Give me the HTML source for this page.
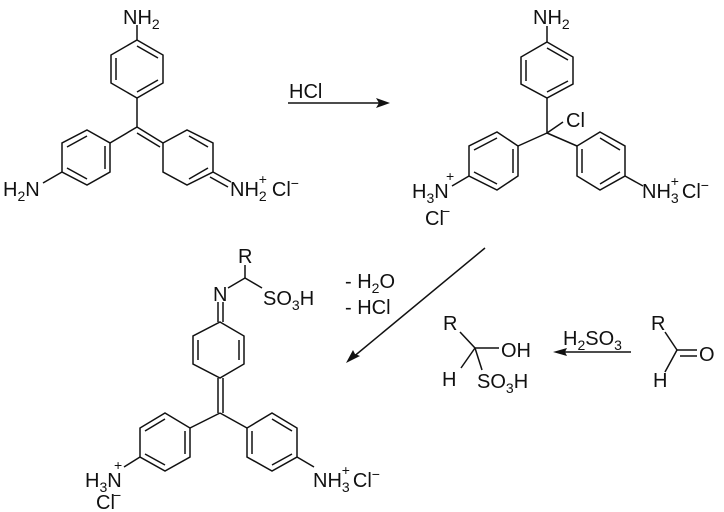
<!DOCTYPE html>
<html><head><meta charset="utf-8"><style>body{margin:0;background:#fff}svg{display:block}text{font-family:"Liberation Sans",sans-serif;font-size:20px;fill:#111}.s{font-size:14px}</style></head><body>
<svg width="724" height="512" viewBox="0 0 724 512" xmlns="http://www.w3.org/2000/svg">
<g stroke="#111" stroke-width="1.5" fill="none">
<polygon points="137,40 163,55 163,83 137,98 111,83 111,55"/>
<line x1="137" y1="46" x2="158" y2="58"/><line x1="158" y1="80" x2="137" y2="92"/><line x1="116" y1="58" x2="116" y2="80"/>
<line x1="137" y1="25" x2="137" y2="40"/>
<line x1="137" y1="98" x2="137" y2="127"/>
<polygon points="87,130 110,143 110,172 87,185 62,172 62,143"/>
<line x1="105" y1="146" x2="105" y2="169"/><line x1="87" y1="136" x2="67" y2="147"/><line x1="67" y1="168" x2="87" y2="179"/>
<line x1="137" y1="127" x2="110" y2="143"/>
<line x1="62" y1="172" x2="43" y2="183"/>
<polygon points="163,143 187,130 213,143 213,172 187,185 163,172"/>
<line x1="137" y1="127" x2="163" y2="143"/><line x1="137" y1="133" x2="160" y2="147"/>
<line x1="189" y1="136" x2="208" y2="147"/><line x1="189" y1="179" x2="208" y2="168"/>
<line x1="213" y1="172" x2="231" y2="182"/><line x1="210" y1="177" x2="228" y2="187"/>
<line x1="288" y1="103" x2="385" y2="103"/>
<polygon points="547,42 573,57 573,84 547,98 521,84 521,57"/>
<line x1="547" y1="48" x2="568" y2="60"/><line x1="568" y1="81" x2="547" y2="92"/><line x1="526" y1="60" x2="526" y2="81"/>
<line x1="547" y1="26" x2="547" y2="42"/>
<line x1="547" y1="98" x2="547" y2="133"/>
<line x1="547" y1="133" x2="563" y2="122"/>
<polygon points="497,132 518,146 518,176 497,190 469,176 469,146"/>
<line x1="513" y1="149" x2="513" y2="173"/><line x1="497" y1="138" x2="474" y2="150"/><line x1="474" y1="172" x2="497" y2="184"/>
<line x1="547" y1="133" x2="518" y2="146"/>
<line x1="469" y1="176" x2="452" y2="186"/>
<polygon points="600,132 625,146 625,176 600,190 577,176 577,146"/>
<line x1="582" y1="149" x2="582" y2="173"/><line x1="600" y1="138" x2="620" y2="150"/><line x1="620" y1="172" x2="600" y2="184"/>
<line x1="547" y1="133" x2="577" y2="146"/>
<line x1="625" y1="176" x2="643" y2="186"/>
<line x1="485" y1="248" x2="352" y2="358"/>
<line x1="228" y1="288" x2="245" y2="278"/><line x1="245" y1="278" x2="262" y2="288"/><line x1="245" y1="278" x2="245" y2="265"/>
<line x1="218" y1="302" x2="218" y2="322"/><line x1="223" y1="302" x2="223" y2="322"/>
<polygon points="220,322 244,336 244,364 220,378 193,364 193,336"/>
<line x1="198" y1="340" x2="198" y2="360"/><line x1="239" y1="340" x2="239" y2="360"/>
<line x1="218" y1="378" x2="218" y2="413"/><line x1="223" y1="378" x2="223" y2="413"/>
<polygon points="165,413 190,428 190,457 165,471 140,457 140,428"/>
<line x1="185" y1="431" x2="185" y2="454"/><line x1="165" y1="419" x2="145" y2="431"/><line x1="145" y1="454" x2="165" y2="465"/>
<line x1="220" y1="413" x2="190" y2="428"/>
<line x1="140" y1="457" x2="124" y2="467"/>
<polygon points="272,413 297,428 297,457 272,471 247,457 247,428"/>
<line x1="252" y1="431" x2="252" y2="454"/><line x1="272" y1="419" x2="292" y2="431"/><line x1="292" y1="454" x2="272" y2="465"/>
<line x1="220" y1="413" x2="247" y2="428"/>
<line x1="297" y1="457" x2="314" y2="467"/>
<line x1="460" y1="332" x2="475" y2="348"/><line x1="475" y1="348" x2="499" y2="348"/><line x1="475" y1="348" x2="461" y2="368"/><line x1="475" y1="348" x2="482" y2="370"/>
<line x1="631" y1="352" x2="560" y2="352"/>
<line x1="665" y1="332" x2="677" y2="350"/><line x1="677" y1="350" x2="697" y2="350"/><line x1="680" y1="356" x2="697" y2="356"/><line x1="677" y1="350" x2="665" y2="372"/>
</g>
<g fill="#111">
<polygon points="390,103 376,98 379,103 376,108"/>
<polygon points="346,363 353,350 355,354 360,356"/>
<polygon points="553,352 567,348 565,352 567,356"/>
</g>
<text x="123" y="24">NH<tspan class="s" dy="5">2</tspan></text>
<text x="3" y="196">H<tspan class="s" dy="5">2</tspan><tspan dy="-5">N</tspan></text>
<text x="230" y="196">NH<tspan class="s" dy="5">2</tspan><tspan class="s" dx="-8" dy="-17">+</tspan><tspan dx="5" dy="12">Cl</tspan><tspan class="s" dy="-8">−</tspan></text>
<text x="289" y="98">HCl</text>
<text x="533" y="24">NH<tspan class="s" dy="5">2</tspan></text>
<text x="566" y="127">Cl</text>
<text x="412" y="198">H<tspan class="s" dy="5">3</tspan><tspan dy="-5">N</tspan></text><text class="s" x="446" y="181">+</text>
<text x="425" y="225">Cl</text><text class="s" x="442" y="216">−</text>
<text x="642" y="198">NH<tspan class="s" dy="5">3</tspan><tspan class="s" dx="-8" dy="-17">+</tspan><tspan dx="3" dy="12">Cl</tspan><tspan class="s" dy="-8">−</tspan></text>
<text x="238" y="263">R</text>
<text x="213" y="301">N</text>
<text x="263" y="305">SO<tspan class="s" dy="5">3</tspan><tspan dy="-5">H</tspan></text>
<text x="85" y="487">H<tspan class="s" dy="5">3</tspan><tspan dy="-5">N</tspan></text><text class="s" x="114" y="470">+</text>
<text x="96" y="509">Cl</text><text class="s" x="113" y="500">−</text>
<text x="313" y="487">NH<tspan class="s" dy="5">3</tspan><tspan class="s" dx="-8" dy="-17">+</tspan><tspan dx="3" dy="12">Cl</tspan><tspan class="s" dy="-8">−</tspan></text>
<text x="345" y="288">- H<tspan class="s" dy="5">2</tspan><tspan dy="-5">O</tspan></text>
<text x="345" y="314">- HCl</text>
<text x="443" y="330">R</text>
<text x="501" y="357">OH</text>
<text x="442" y="386">H</text>
<text x="477" y="388">SO<tspan class="s" dy="5">3</tspan><tspan dy="-5">H</tspan></text>
<text x="563" y="345">H<tspan class="s" dy="5">2</tspan><tspan dy="-5">SO</tspan><tspan class="s" dy="5">3</tspan></text>
<text x="651" y="330">R</text>
<text x="699" y="361">O</text>
<text x="653" y="387">H</text>
</svg>
</body></html>
